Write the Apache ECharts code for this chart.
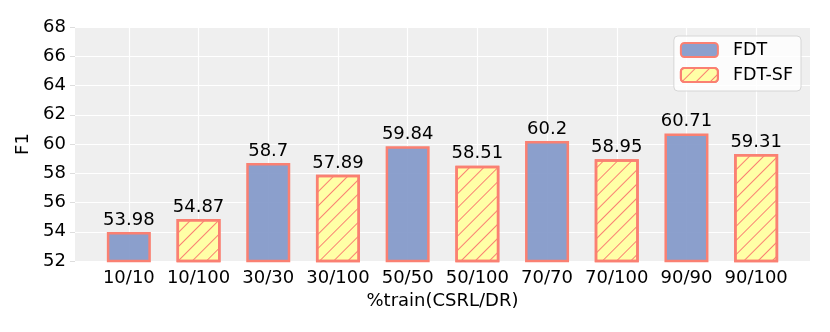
<!DOCTYPE html>
<html>
<head>
<meta charset="utf-8">
<script src="https://cdn.jsdelivr.net/npm/echarts@6/dist/echarts.min.js"></script>
<style>
  html, body { margin: 0; padding: 0; background: #fff; }
  #chart { width: 830px; height: 332px; }
</style>
</head>
<body>
<div id="chart"></div>
<script>
// 数据
const categories = ['10/10', '10/100', '30/30', '30/100', '50/50', '50/100', '70/70', '70/100', '90/90', '90/100']
const fdtValues = [53.98, 58.7, 59.84, 60.2, 60.71]
const fdtSfValues = [54.87, 57.89, 58.51, 58.95, 59.31]
const yTicks = [52, 54, 56, 58, 60, 62, 64, 66, 68]

// FDT 在偶数位置，FDT-SF 在奇数位置
const fdtData = categories.map((c, i) => (i % 2 === 0 ? fdtValues[i / 2] : '-'))
const sfData = categories.map((c, i) => (i % 2 === 1 ? fdtSfValues[(i - 1) / 2] : '-'))

const font = 'DejaVu Sans'
const salmon = '#FA8072'

const chart = echarts.init(document.getElementById('chart'), null, { renderer: 'canvas' })

const barLabel = {
  show: true,
  position: 'top',
  distance: 3,
  color: '#000',
  fontSize: 18,
  fontFamily: font
}

chart.setOption({
  animation: false,
  textStyle: { fontFamily: font },
  grid: [
    // 背景区域（含边距）
    { left: 75, right: 20, top: 27, bottom: 71, show: true, backgroundColor: '#EFEFEF', borderWidth: 0 },
    // 柱子所在区域
    { left: 94, right: 39, top: 27, bottom: 71 }
  ],
  xAxis: [
    { gridIndex: 0, type: 'value', min: 0, max: 1, show: false },
    {
      gridIndex: 1,
      type: 'category',
      data: categories,
      boundaryGap: true,
      axisLine: { show: false },
      axisTick: {
        show: true,
        interval: 0,
        alignWithLabel: true,
        inside: true,
        length: 234,
        lineStyle: { color: '#fff', width: 1.2 }
      },
      axisLabel: { interval: 0, color: '#000', fontSize: 18, margin: 8, fontFamily: font },
      name: '%train(CSRL/DR)',
      nameLocation: 'middle',
      nameGap: 27,
      nameTextStyle: { color: '#000', fontSize: 18, fontFamily: font }
    }
  ],
  yAxis: [
    {
      gridIndex: 0,
      type: 'value',
      min: yTicks[0],
      max: yTicks[yTicks.length - 1],
      interval: 2,
      axisLine: { show: false },
      axisTick: { show: true, length: 5, lineStyle: { color: '#ddd' } },
      axisLabel: { color: '#000', fontSize: 18, margin: 9, fontFamily: font },
      splitLine: { show: true, lineStyle: { color: '#fff', width: 1.2 } },
      name: 'F1',
      nameLocation: 'middle',
      nameGap: 38,
      nameTextStyle: { color: '#000', fontSize: 18, fontFamily: font }
    },
    {
      gridIndex: 1,
      type: 'value',
      min: yTicks[0],
      max: yTicks[yTicks.length - 1],
      interval: 2,
      show: false
    }
  ],
  legend: {
    orient: 'vertical',
    right: 29,
    top: 36,
    padding: [5, 8, 7, 6],
    itemGap: 7,
    itemWidth: 37,
    itemHeight: 14,
    backgroundColor: 'rgba(255,255,255,0.8)',
    borderColor: '#d6d6d6',
    borderWidth: 1,
    borderRadius: 4,
    textStyle: { color: '#000', fontSize: 17.5, fontFamily: font, padding: [0, 0, 0, 10] },
    data: ['FDT', 'FDT-SF']
  },
  series: [
    {
      name: 'FDT',
      type: 'bar',
      xAxisIndex: 1,
      yAxisIndex: 1,
      data: fdtData,
      barWidth: 44,
      barGap: '-100%',
      itemStyle: {
        color: 'rgba(128,150,200,0.9)',
        borderColor: salmon,
        borderWidth: 2.5
      },
      label: barLabel
    },
    {
      name: 'FDT-SF',
      type: 'bar',
      xAxisIndex: 1,
      yAxisIndex: 1,
      data: sfData,
      barWidth: 44,
      barGap: '-100%',
      itemStyle: {
        color: '#FFFFA6',
        borderColor: salmon,
        borderWidth: 2.5,
        decal: {
          symbol: 'rect',
          symbolSize: 1,
          dashArrayX: [1, 0],
          dashArrayY: [1, 9],
          rotation: -Math.PI / 4,
          color: salmon
        }
      },
      label: barLabel
    }
  ]
})
</script>
</body>
</html>
